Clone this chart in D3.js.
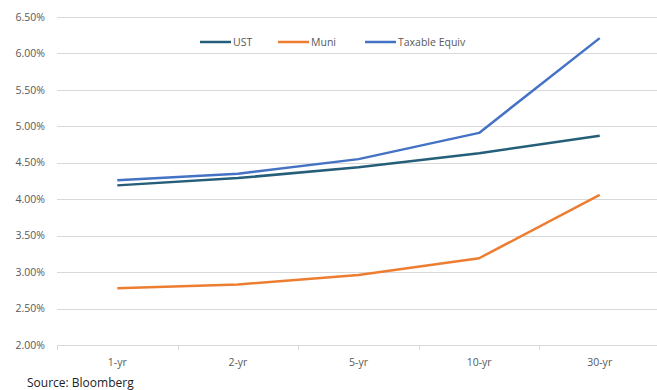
<!DOCTYPE html>
<html>
<head>
<meta charset="utf-8">
<script src="https://cdn.jsdelivr.net/npm/d3@7"></script>
<style>
  body { margin: 0; background: #fff; }
  svg { display: block; font-family: "Open Sans", "Noto Sans", sans-serif; }
</style>
</head>
<body>
<svg id="chart" width="657" height="390"></svg>
<script>
// chart data
const tenors = ['1-yr', '2-yr', '5-yr', '10-yr', '30-yr'];
const ust = [4.19, 4.29, 4.44, 4.63, 4.87];
const muni = [2.78, 2.83, 2.96, 3.19, 4.06];
const taxableEquiv = [4.26, 4.35, 4.55, 4.91, 6.21];
const yTicks = [2.0, 2.5, 3.0, 3.5, 4.0, 4.5, 5.0, 5.5, 6.0, 6.5];

const series = [
  {name: 'UST', values: ust, color: '#255e79'},
  {name: 'Muni', values: muni, color: '#ed7d31'},
  {name: 'Taxable Equiv', values: taxableEquiv, color: '#4472c4'}
];

let svg = d3.select('#chart');
let margin = {top: 17, right: -3, bottom: 45, left: 57};
let width = 657, height = 390;

var x = d3.scaleBand()
    .domain(tenors)
    .range([margin.left, width - margin.right]);

var y = d3.scaleLinear()
    .domain([2, 6.5])
    .range([height - margin.bottom, margin.top]);

// gridlines
svg.append('g')
    .selectAll('line')
    .data(yTicks)
    .enter().append('line')
    .attr('x1', margin.left)
    .attr('x2', width)
    .attr('y1', function(d) { return Math.round(y(d)) + 0.5; })
    .attr('y2', function(d) { return Math.round(y(d)) + 0.5; })
    .attr('stroke', '#d9d9d9')
    .attr('stroke-width', 1);

// y labels
svg.append('g')
    .selectAll('text')
    .data(yTicks)
    .enter().append('text')
    .attr('x', 45)
    .attr('y', function(d) { return y(d); })
    .attr('dy', '0.35em')
    .attr('text-anchor', 'end')
    .attr('fill', '#595959')
    .style('font-size', '10.5px')
    .text(function(d) { return d.toFixed(2) + '%'; });

// x axis
let xAxis = svg.append('g')
    .attr('transform', 'translate(0,' + (Math.round(y(2)) + 0.5) + ')')
    .call(d3.axisBottom(x).tickSize(0).tickPadding(13));
xAxis.select('.domain').remove();
xAxis.selectAll('text')
    .attr('fill', '#595959')
    .style('font-size', '10.5px')
    .style('font-family', '"Open Sans", "Noto Sans", sans-serif');

// category boundary ticks
svg.append('g')
    .selectAll('line')
    .data(tenors)
    .enter().append('line')
    .attr('x1', function(d) { return Math.round(x(d)) + 0.5; })
    .attr('x2', function(d) { return Math.round(x(d)) + 0.5; })
    .attr('y1', Math.round(y(2)))
    .attr('y2', Math.round(y(2)) + 5)
    .attr('stroke', '#d9d9d9');

// lines
let line = d3.line()
    .x(function(d, i) { return x(tenors[i]) + x.bandwidth() / 2; })
    .y(function(d) { return y(d); });

svg.append('g')
    .selectAll('path')
    .data(series)
    .enter().append('path')
    .attr('fill', 'none')
    .attr('stroke', function(d) { return d.color; })
    .attr('stroke-width', 2.5)
    .attr('stroke-linejoin', 'round')
    .attr('d', function(d) { return line(d.values); });

// legend
let legendX = [200, 278, 365];
let legend = svg.append('g')
    .selectAll('g')
    .data(series)
    .enter().append('g')
    .attr('transform', function(d, i) { return 'translate(' + legendX[i] + ',42)'; });

legend.append('line')
    .attr('x1', 0)
    .attr('x2', 31)
    .attr('stroke', function(d) { return d.color; })
    .attr('stroke-width', 2.5);

legend.append('text')
    .attr('x', 33)
    .attr('dy', '0.35em')
    .attr('fill', '#595959')
    .style('font-size', '10.5px')
    .text(function(d) { return d.name; });

// source note
svg.append('text')
    .attr('x', 27)
    .attr('y', 387)
    .attr('fill', '#222')
    .style('font-size', '12px')
    .text('Source: Bloomberg');
</script>
</body>
</html>
